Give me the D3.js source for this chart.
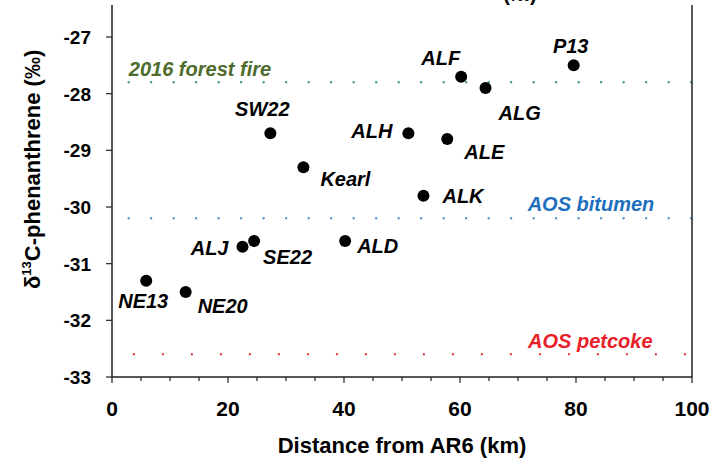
<!DOCTYPE html>
<html>
<meta charset="utf-8">
<style>
  body { margin: 0; padding: 0; background: #fff; }
  text { font-family: "Liberation Sans", Arial, sans-serif; font-weight: bold; }
  .tick-label { font-size: 19px; fill: #000; }
  .x-tick-label { font-size: 21px; fill: #000; }
  .axis-title { font-size: 22px; fill: #000; }
  .pt-label { font-size: 20px; font-style: italic; fill: #000; }
  .ref-label { font-size: 20px; font-style: italic; }
</style>
<body>
<div id="chart"></div>
<script src="https://d3js.org/d3.v7.min.js"></script>
<script>

// sampling sites: distance from AR6 (km) and d13C of phenanthrene (permil)
var sites     = ["NE13", "NE20", "ALJ", "SE22", "ALD", "SW22", "Kearl", "ALH", "ALE", "ALF", "ALG", "P13", "ALK"];
var distances = [5.9, 12.7, 22.5, 24.5, 40.2, 27.3, 33.0, 51.1, 57.8, 60.2, 64.4, 79.6, 53.7];
var d13c      = [-31.3, -31.5, -30.7, -30.6, -30.6, -28.7, -29.3, -28.7, -28.8, -27.7, -27.9, -27.5, -29.8];

// source end-members
var refNames  = ["2016 forest fire", "AOS bitumen", "AOS petcoke"];
var refValues = [-27.8, -30.2, -32.6];

var xTicks = [0, 20, 40, 60, 80, 100];
var yTicks = [-33, -32, -31, -30, -29, -28, -27];

var W = 711, H = 459;
var plotLeft = 112, plotRight = 692, plotBottom = 377, plotTop = 37, frameTop = 5;

var svg = d3.select("#chart").append("svg")
    .attr("width", W)
    .attr("height", H);

var x = d3.scaleLinear().domain([0, 100]).range([plotLeft, plotRight]);
var y = d3.scaleLinear().domain([-33, -27]).range([plotBottom, plotTop]);

// clipped title fragment from the original figure
svg.append("text")
    .attr("x", 520).attr("y", 1)
    .attr("text-anchor", "middle")
    .style("font-size", "20px")
    .text("(‰)");

// reference lines (dotted) + labels
var refStyle = [
  {line: "#1f9a55", text: "#4e6b2c", x0: 2.7, x1: 100, dash: "2,20.5", lx: 2.9, anchor: "start", dy: -6},
  {line: "#3b86d1", text: "#1e6fbe", x0: 2.7, x1: 100, dash: "2,20.5", lx: 93.5, anchor: "end", dy: -7},
  {line: "#ee2430", text: "#e8202a", x0: 3.6, x1: 99, dash: "2,27", lx: 93.2, anchor: "end", dy: -6}
];
refNames.forEach(function(name, i) {
  var s = refStyle[i];
  svg.append("line")
    .attr("x1", x(s.x0)).attr("x2", x(s.x1))
    .attr("y1", y(refValues[i])).attr("y2", y(refValues[i]))
    .attr("stroke", s.line)
    .attr("stroke-width", 2)
    .attr("stroke-dasharray", s.dash);
  svg.append("text")
    .attr("class", "ref-label")
    .attr("x", x(s.lx))
    .attr("y", y(refValues[i]) + s.dy)
    .attr("text-anchor", s.anchor)
    .attr("fill", s.text)
    .text(name);
});

// frame: left, bottom, right
svg.append("path")
    .attr("d", "M" + plotLeft + "," + frameTop + "V" + plotBottom + "H" + plotRight + "V" + frameTop)
    .attr("fill", "none")
    .attr("stroke", "#222")
    .attr("stroke-width", 1.5);

// y ticks
yTicks.forEach(function(t) {
  svg.append("line")
    .attr("x1", plotLeft - 6).attr("x2", plotLeft)
    .attr("y1", y(t)).attr("y2", y(t))
    .attr("stroke", "#222").attr("stroke-width", 1.2);
  svg.append("text")
    .attr("class", "tick-label")
    .attr("x", plotLeft - 21)
    .attr("y", y(t) + 7)
    .attr("text-anchor", "end")
    .text(t);
});

// x ticks (major every 20, minor every 5)
d3.range(0, 101, 5).forEach(function(t) {
  var major = t % 20 === 0;
  svg.append("line")
    .attr("x1", x(t)).attr("x2", x(t))
    .attr("y1", plotBottom).attr("y2", plotBottom + (major ? 6 : 4))
    .attr("stroke", "#222").attr("stroke-width", 1.2);
});
xTicks.forEach(function(t) {
  svg.append("text")
    .attr("class", "x-tick-label")
    .attr("x", x(t))
    .attr("y", 416)
    .attr("text-anchor", "middle")
    .text(t);
});

// axis titles
svg.append("text")
    .attr("class", "axis-title")
    .attr("x", 402)
    .attr("y", 453)
    .attr("text-anchor", "middle")
    .text("Distance from AR6 (km)");

var yt = svg.append("text")
    .attr("class", "axis-title")
    .attr("transform", "translate(40,289) rotate(-90)")
    .attr("text-anchor", "start");
yt.append("tspan").text("δ");
yt.append("tspan").attr("dy", -9).style("font-size", "13px").text("13");
yt.append("tspan").attr("dy", 9).text("C-phenanthrene (‰)");

// label offsets (px) relative to each point
var labelPos = {
  NE13: [-3, 27, "middle"], NE20: [12, 21, "start"], ALJ: [-14, 8, "end"],
  SE22: [9, 23, "start"], ALD: [12, 12, "start"], SW22: [-8, -17, "middle"],
  Kearl: [17, 19, "start"], ALH: [-16, 5, "end"], ALE: [17, 20, "start"],
  ALF: [-1, -12, "end"], ALG: [13, 32, "start"], P13: [-3, -12, "middle"],
  ALK: [19, 7, "start"]
};

var data = sites.map(function(s, i) { return {site: s, d: distances[i], v: d13c[i]}; });

svg.selectAll("circle.pt")
  .data(data)
  .enter().append("circle")
    .attr("class", "pt")
    .attr("cx", function(d) { return x(d.d); })
    .attr("cy", function(d) { return y(d.v); })
    .attr("r", 6)
    .attr("fill", "#000");

svg.selectAll("text.pt-label")
  .data(data)
  .enter().append("text")
    .attr("class", "pt-label")
    .attr("x", function(d) { return x(d.d) + labelPos[d.site][0]; })
    .attr("y", function(d) { return y(d.v) + labelPos[d.site][1]; })
    .attr("text-anchor", function(d) { return labelPos[d.site][2]; })
    .text(function(d) { return d.site; });

</script>
</body>
</html>
